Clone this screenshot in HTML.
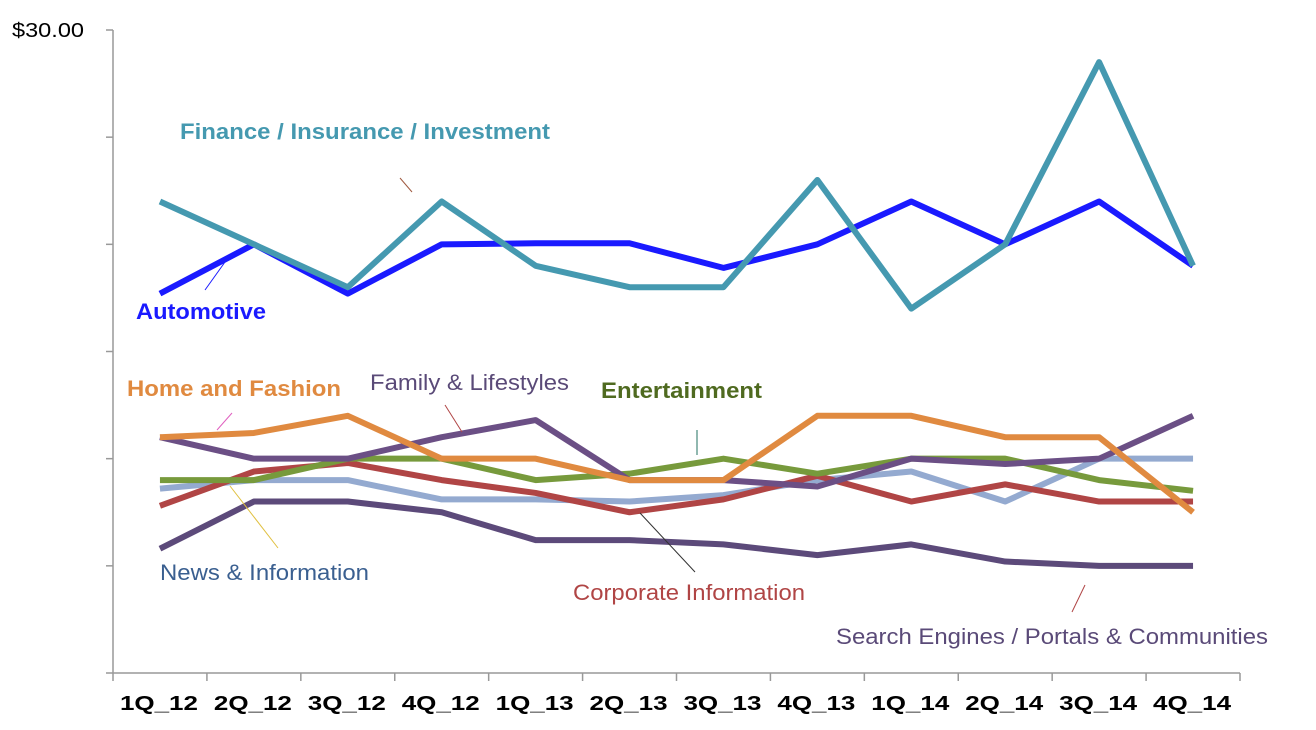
<!DOCTYPE html>
<html><head><meta charset="utf-8"><style>
body{margin:0;background:#fff;}
svg{display:block;font-family:"Liberation Sans",Arial,sans-serif;}
</style></head><body>
<svg id="chart" width="1316" height="730">
<g id="axes"></g><g id="lines"></g><g id="labels"></g>
</svg>
<script>
const categories=["1Q_12","2Q_12","3Q_12","4Q_12","1Q_13","2Q_13","3Q_13","4Q_13","1Q_14","2Q_14","3Q_14","4Q_14"];
const automotive=[17.7,20,17.7,20,20.05,20.05,18.9,20,22,20,22,19];
const finance=[22,20,18,22,19,18,18,23,17,20,28.5,19];
const homeFashion=[11,11.2,12,10,10,9,9,12,12,11,11,7.5];
const family=[11,10,10,11,11.8,9,9,8.7,10,9.75,10,12];
const entertainment=[9,9,10,10,9,9.3,10,9.3,10,10,9,8.5];
const corporate=[7.8,9.4,9.8,9,8.4,7.5,8.1,9.2,8,8.8,8,8];
const news=[8.6,9,9,8.1,8.1,8,8.3,9,9.4,8,10,10];
const search=[5.8,8,8,7.5,6.2,6.2,6,5.5,6,5.2,5,5];
const yTickValues=[0,5,10,15,20,25,30];

const NS="http://www.w3.org/2000/svg";
const x0=113,x1=1240,y0=673,y1=30,yMax=30;
const step=(x1-x0)/categories.length;
function xs(i){return x0+step*(i+0.5);}
function ys(v){return y0-(v/yMax)*(y0-y1);}
function mk(tag,attrs,parent){const e=document.createElementNS(NS,tag);for(const k in attrs)e.setAttribute(k,attrs[k]);parent.appendChild(e);return e;}
const axes=document.getElementById('axes'),lines=document.getElementById('lines'),labels=document.getElementById('labels');

let a=mk('line',{x1:x0,y1:y1,x2:x0,y2:y0,stroke:'#999','stroke-width':1.5},axes);


a=mk('line',{x1:x0,y1:y0,x2:x1,y2:y0,stroke:'#999','stroke-width':1.5},axes);


yTickValues.forEach(v=>{
 const t=mk('line',{x1:x0-7,y1:ys(v),x2:x0,y2:ys(v),stroke:'#999','stroke-width':1.5},axes);
 
 
});
for(let i=0;i<=categories.length;i++){
 const t=mk('line',{x1:x0+step*i,y1:y0,x2:x0+step*i,y2:y0+8,stroke:'#999','stroke-width':1.5},axes);
 
 
}
let yl=mk('text',{x:12,y:37,'font-size':20,fill:'#000',textLength:72,lengthAdjust:'spacingAndGlyphs'},axes);
yl.textContent='$'+yTickValues[yTickValues.length-1].toFixed(2);


categories.forEach((c,i)=>{
 const t=mk('text',{x:xs(i)-40,y:710,'font-size':20,'font-weight':'bold',fill:'#000',textLength:78,lengthAdjust:'spacingAndGlyphs'},axes);
 t.textContent=c;
 
 
});

const series=[
 [automotive,'#1a1aff','automotive-line'],
 [finance,'#4599b0','finance-line'],
 [search,'#5c4a7a','search-engines-line'],
 [news,'#94aad0','news-information-line'],
 [corporate,'#b04545','corporate-information-line'],
 [entertainment,'#779a3c','entertainment-line'],
 [family,'#6b4f85','family-lifestyles-line'],
 [homeFashion,'#e08a40','home-fashion-line'],
];
series.forEach(([d,c,n])=>{
 const p=mk('polyline',{points:d.map((v,i)=>xs(i)+','+ys(v)).join(' '),fill:'none',stroke:c,'stroke-width':6,'stroke-linejoin':'round'},lines);
 
 
});

const lbls=[
 ['Finance / Insurance / Investment',180,139,'#4599b0',true,370,[412,192,400,178,'#a05a40'],'finance-label'],
 ['Automotive',136,319,'#1a1aff',true,130,[205,290,225,262,'#1a1aff'],'automotive-label'],
 ['Home and Fashion',127,396,'#e08a40',true,214,[232,413,217,430,'#e060c0'],'home-fashion-label'],
 ['Family & Lifestyles',370,390,'#5a4a78',false,199,[445,405,462,432,'#b04545'],'family-lifestyles-label'],
 ['Entertainment',601,398,'#4f6a20',true,161,[697,430,697,455,'#207060'],'entertainment-label'],
 ['News & Information',160,580,'#3a5f90',false,209,[278,548,230,486,'#e0c040'],'news-information-label'],
 ['Corporate Information',573,600,'#b04545',false,232,[695,572,640,513,'#333'],'corporate-information-label'],
 ['Search Engines / Portals & Communities',836,644,'#5a4a78',false,432,[1072,612,1085,585,'#b04545'],'search-engines-label'],
];
lbls.forEach(([t,x,y,c,b,w,l,n])=>{
 const ln=mk('line',{x1:l[0],y1:l[1],x2:l[2],y2:l[3],stroke:l[4],'stroke-width':1},labels);
 
 
 const e=mk('text',{x:x,y:y,'font-size':22,'font-weight':b?'bold':'normal',fill:c,textLength:w,lengthAdjust:'spacingAndGlyphs'},labels);
 e.textContent=t;
 
 
});
</script>
</body></html>
